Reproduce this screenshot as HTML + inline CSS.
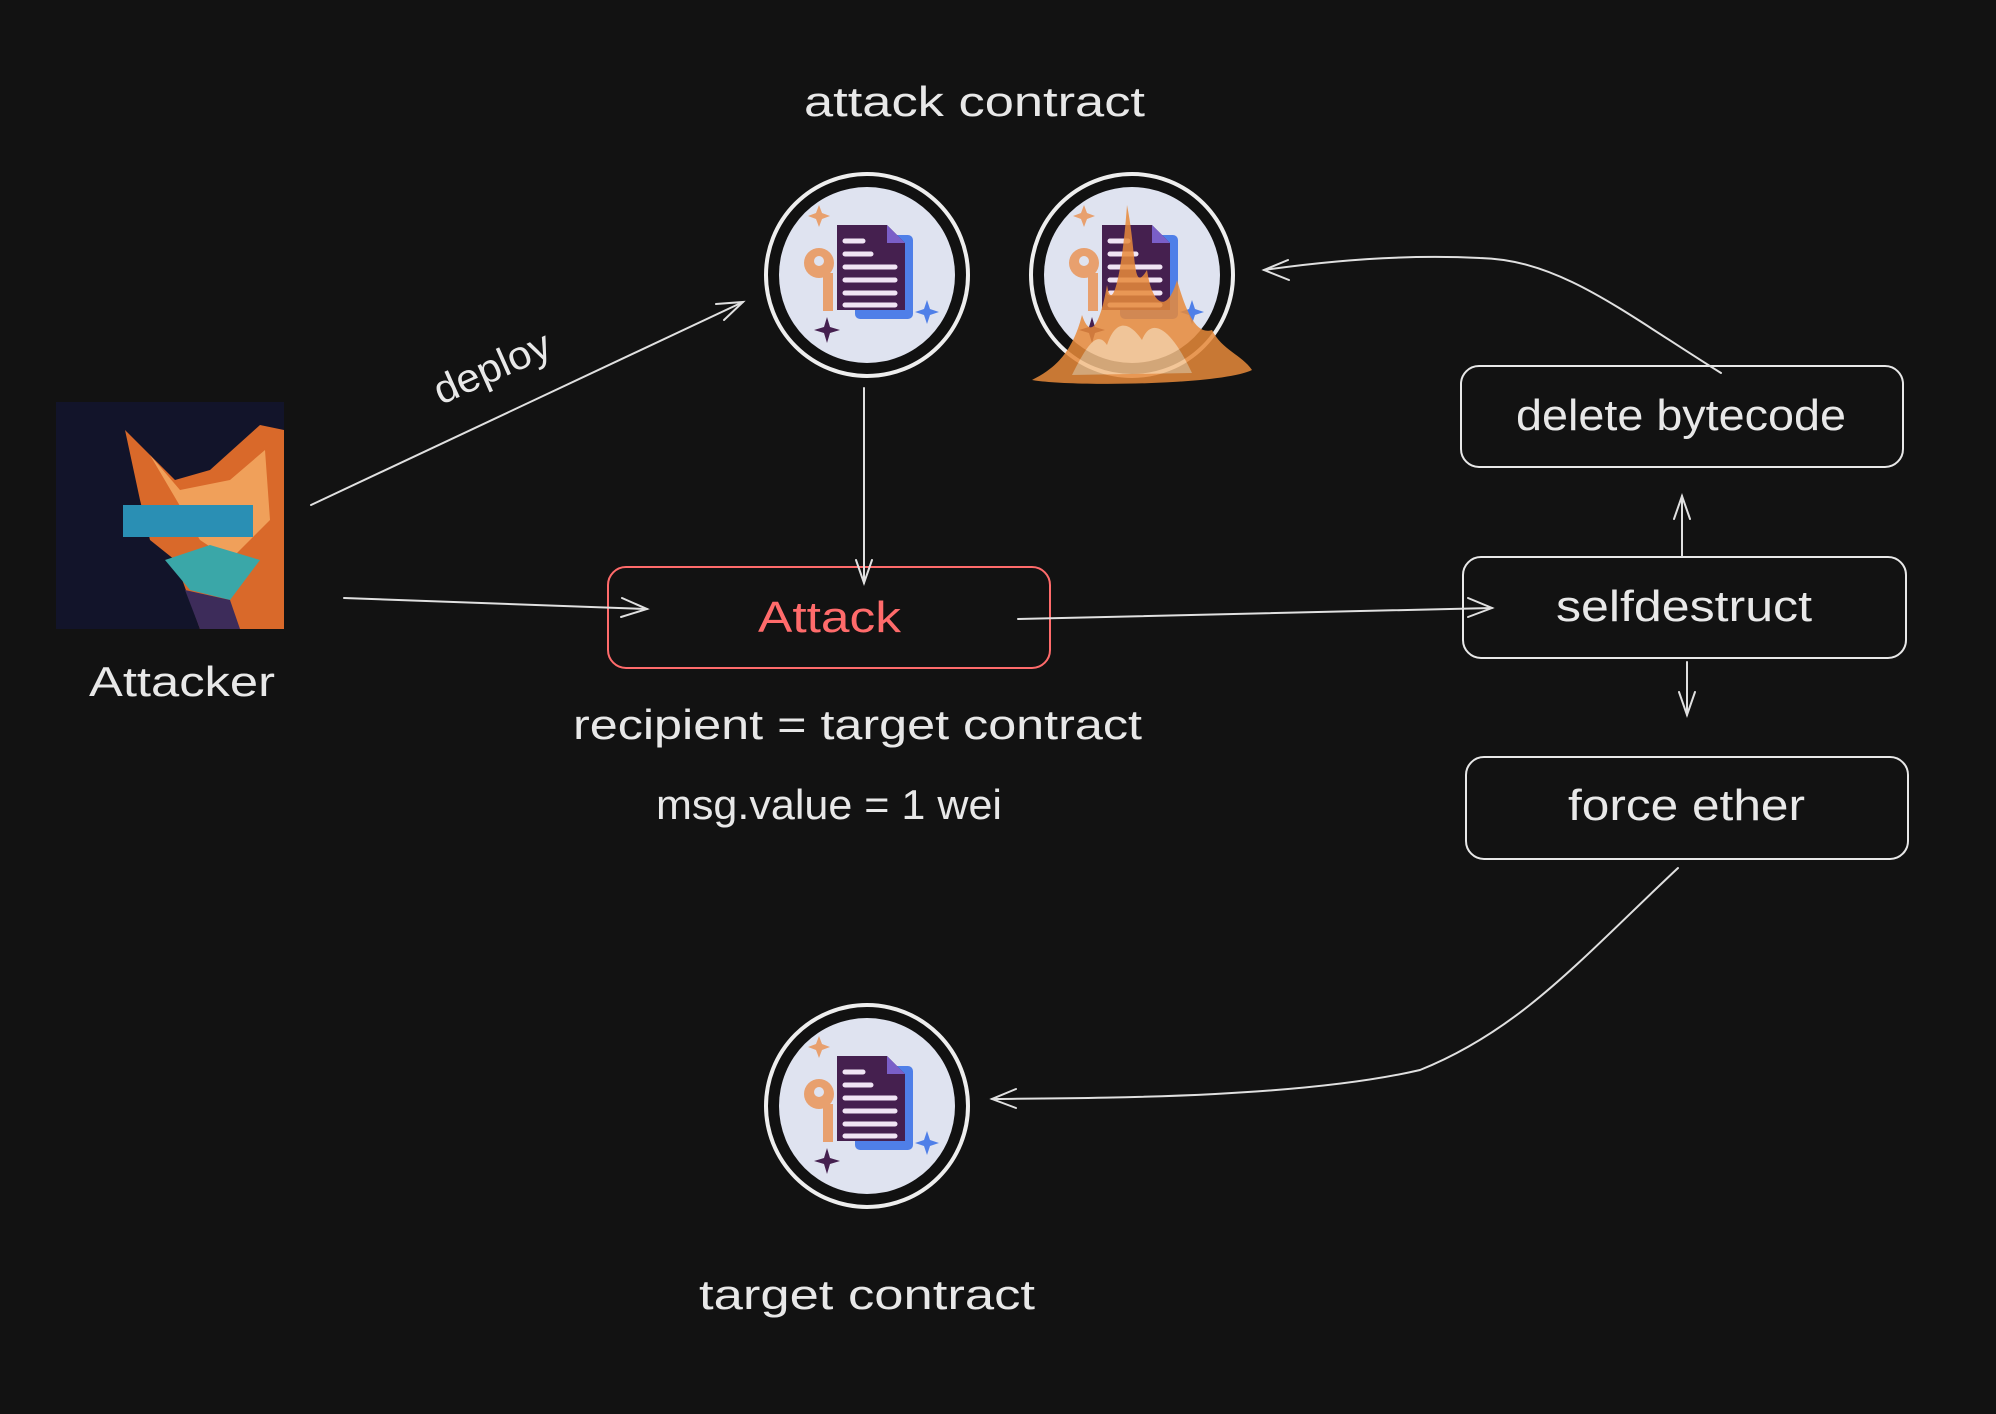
<!DOCTYPE html>
<html><head><meta charset="utf-8"><style>
html,body{margin:0;padding:0;background:#121212;}
svg{display:block}
text{font-family:"Liberation Sans",sans-serif;fill:#e8e8e8;}
</style></head><body>
<svg width="1996" height="1414" viewBox="0 0 1996 1414" xmlns="http://www.w3.org/2000/svg">
<defs>
<g id="doc">
  <circle r="88" fill="#dfe3f0"/>
  <rect x="-12" y="-40" width="58" height="84" rx="5" fill="#4f7fe8"/>
  <path d="M-30,-50 L20,-50 L38,-32 L38,35 L-30,35 Z" fill="#45204f"/>
  <path d="M20,-50 L38,-32 L20,-32 Z" fill="#7a5fc8"/>
  <g stroke="#f0e4f4" stroke-width="5" stroke-linecap="round">
    <line x1="-22" y1="-34" x2="-4" y2="-34"/><line x1="-22" y1="-21" x2="4" y2="-21"/>
    <line x1="-22" y1="-8" x2="28" y2="-8"/><line x1="-22" y1="5" x2="28" y2="5"/>
    <line x1="-22" y1="18" x2="28" y2="18"/><line x1="-22" y1="30" x2="28" y2="30"/>
  </g>
  <circle cx="-48" cy="-12" r="15" fill="#e8a06e"/><circle cx="-48" cy="-14" r="5" fill="#dfe3f0"/>
  <rect x="-44" y="-2" width="10" height="38" fill="#e8a06e"/>
  <path d="M-48,-70 l3,8 l8,3 l-8,3 l-3,8 l-3,-8 l-8,-3 l8,-3z" fill="#e8a06e"/>
  <path d="M60,25 l3,9 l9,3 l-9,3 l-3,9 l-3,-9 l-9,-3 l9,-3z" fill="#4f7fe8"/>
  <path d="M-40,42 l3,10 l10,3 l-10,3 l-3,10 l-3,-10 l-10,-3 l10,-3z" fill="#45204f"/>
</g>
</defs>

<text x="804" y="116" font-size="42" textLength="341" lengthAdjust="spacingAndGlyphs">attack contract</text>

<g transform="translate(867,275)">
  <circle r="101" fill="#111" stroke="#eee" stroke-width="4"/>
  <use href="#doc"/>
</g>
<g transform="translate(1132,275)">
  <circle r="101" fill="#111" stroke="#eee" stroke-width="4"/>
  <use href="#doc"/>
  <g fill="#e88a3a" opacity="0.85">
    <path d="M-100,105 C-80,95 -60,80 -50,40 C-40,70 -30,40 -25,10 C-20,40 -10,0 -5,-70 C5,-20 0,20 15,-5 C20,30 35,40 45,5 C55,40 65,60 80,55 C90,75 110,80 120,95 C90,110 -60,112 -100,105Z"/>
    <path d="M-60,100 C-45,70 -35,55 -25,70 C-15,40 0,50 10,65 C20,40 40,55 60,98Z" fill="#f4c08a"/>
  </g>
</g>
<g transform="translate(867,1106)">
  <circle r="101" fill="#111" stroke="#eee" stroke-width="4"/>
  <use href="#doc"/>
</g>

<rect x="56" y="402" width="228" height="227" fill="#12142a"/>
<g>
  <path d="M125,430 L175,480 L210,470 L260,425 L284,430 L284,629 L200,629 L175,560 L150,540 L140,500 Z" fill="#d9692a"/>
  <path d="M150,455 L180,490 L230,480 L265,450 L270,520 L230,560 L200,540 Z" fill="#f0a05a"/>
  <rect x="123" y="505" width="130" height="32" fill="#2a8fb4"/>
  <path d="M165,560 L210,545 L260,560 L230,600 L190,590Z" fill="#3aa7a8"/>
  <path d="M185,590 L230,600 L240,629 L200,629Z" fill="#3d2c5a"/>
</g>
<text x="89" y="696" font-size="42" textLength="186" lengthAdjust="spacingAndGlyphs">Attacker</text>

<text x="430" y="384" font-size="40" textLength="124" lengthAdjust="spacingAndGlyphs" transform="rotate(-24 485 369)">deploy</text>

<rect x="608" y="567" width="442" height="101" rx="18" fill="none" stroke="#ff6b6b" stroke-width="2"/>
<text x="758" y="632" font-size="44" textLength="143" lengthAdjust="spacingAndGlyphs" style="fill:#ff6b6b">Attack</text>

<rect x="1461" y="366" width="442" height="101" rx="18" fill="none" stroke="#e8e8e8" stroke-width="2"/>
<text x="1516" y="430" font-size="44" textLength="330" lengthAdjust="spacingAndGlyphs">delete bytecode</text>

<rect x="1463" y="557" width="443" height="101" rx="18" fill="none" stroke="#e8e8e8" stroke-width="2"/>
<text x="1556" y="621" font-size="44" textLength="256" lengthAdjust="spacingAndGlyphs">selfdestruct</text>

<rect x="1466" y="757" width="442" height="102" rx="18" fill="none" stroke="#e8e8e8" stroke-width="2"/>
<text x="1568" y="820" font-size="44" textLength="237" lengthAdjust="spacingAndGlyphs">force ether</text>

<text x="573" y="739" font-size="42" textLength="569" lengthAdjust="spacingAndGlyphs">recipient = target contract</text>
<text x="656" y="819" font-size="42" textLength="346" lengthAdjust="spacingAndGlyphs">msg.value = 1 wei</text>
<text x="699" y="1309" font-size="42" textLength="336" lengthAdjust="spacingAndGlyphs">target contract</text>

<g fill="none" stroke="#e0e0e0" stroke-width="2" stroke-linecap="round">
  <path d="M311,505 L743,302"/><path d="M716,304 L743,302 L724,320"/>
  <path d="M344,598 L647,609"/><path d="M622,598 L647,609 L621,617"/>
  <path d="M864,388 L864,583"/><path d="M856,560 L864,583 L872,560"/>
  <path d="M1018,619 L1492,608"/><path d="M1468,598 L1492,608 L1468,617"/>
  <path d="M1682,556 L1682,496"/><path d="M1674,519 L1682,496 L1690,519"/>
  <path d="M1687,662 L1687,715"/><path d="M1679,692 L1687,715 L1695,692"/>
  <path d="M1721,373 C1620,310 1560,260 1480,258 C1400,254 1320,262 1264,270"/><path d="M1288,260 L1264,270 L1289,280"/>
  <path d="M1678,868 C1580,960 1520,1030 1420,1070 C1300,1098 1100,1098 992,1099"/><path d="M1016,1089 L992,1099 L1016,1108"/>
</g>
</svg>
</body></html>
